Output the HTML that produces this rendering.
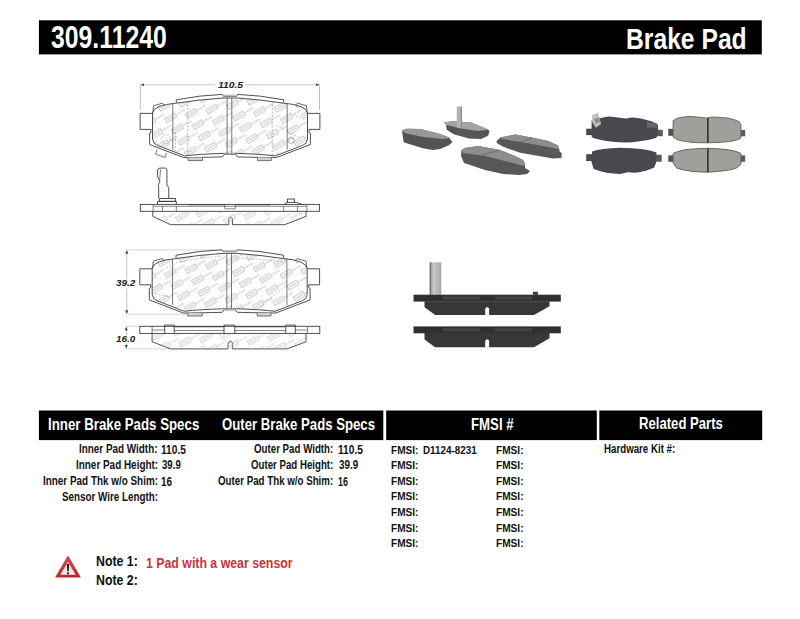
<!DOCTYPE html>
<html><head><meta charset="utf-8"><title>309.11240 Brake Pad</title>
<style>
html,body{margin:0;padding:0;background:#fff;}
body{width:800px;height:619px;position:relative;overflow:hidden;font-family:"Liberation Sans",sans-serif;}
.bar{position:absolute;background:#000;}
.t{position:absolute;white-space:pre;transform-origin:0 0;}
svg{position:absolute;left:0;top:0;}
</style></head><body>
<svg width="800" height="619" viewBox="0 0 800 619">
<defs>
 <pattern id="wm" width="40" height="13" patternUnits="userSpaceOnUse" patternTransform="rotate(-30) translate(3,2)">
  <rect x="0.5" y="1.0" width="11" height="4.8" fill="none" stroke="#bdbdbd" stroke-width="0.8"/>
  <path d="M2.3,3.4 H9.7" stroke="#cacaca" stroke-width="1.6" stroke-dasharray="1.4,0.6"/>
  <path d="M12.5,3.4 H22" stroke="#d6d6d6" stroke-width="2" stroke-dasharray="1.8,0.8"/>
  <rect x="20.5" y="7.5" width="11" height="4.8" fill="none" stroke="#bdbdbd" stroke-width="0.8"/>
  <path d="M22.3,9.9 H29.7" stroke="#cacaca" stroke-width="1.6" stroke-dasharray="1.4,0.6"/>
  <path d="M32.5,9.9 H42" stroke="#d6d6d6" stroke-width="2" stroke-dasharray="1.8,0.8"/>
  <path d="M-7.5,9.9 H2" stroke="#d6d6d6" stroke-width="2" stroke-dasharray="1.8,0.8"/>
 </pattern>
 <linearGradient id="tabg" x1="0" y1="0" x2="1" y2="0"><stop offset="0" stop-color="#8a8a8a"/><stop offset="0.3" stop-color="#c9c9c9"/><stop offset="1" stop-color="#a9a9a9"/></linearGradient>
 <g id="front">
  <!-- friction area with watermark -->
  <path d="M152.5,139 V113 Q154,105 176,103.2 Q200,99.5 223,98 H237 Q260,99.5 284,103.2 Q306,105 307.5,113 V139 Q307,144 302.5,145.4 L275.4,155.9 Q260,154 237,153.4 H223 Q200,154 184.6,155.9 L157.5,145.4 Q153,144 152.5,139 Z" fill="url(#wm)" stroke="#3c3c3c" stroke-width="0.9"/>
  <!-- ears -->
  <path d="M152.6,113.4 H140.1 V129.4 H151" fill="none" stroke="#3c3c3c" stroke-width="0.9"/>
  <path d="M307.4,113.4 H319.9 V129.4 H309" fill="none" stroke="#3c3c3c" stroke-width="0.9"/>
  <!-- outer backplate bottom -->
  <path d="M151,129.4 V132.2 L149.6,133 V144.5 L183.7,157.6 Q200,157.5 222.5,156.9 L224.4,154.4 H235.6 L237.5,156.9 Q260,157.5 276.3,157.6 L310.4,144.5 V133 L309,132.2 V129.4" fill="none" stroke="#3c3c3c" stroke-width="0.9"/>
  <!-- raised top line -->
  <path d="M176.3,102.6 V99.8 Q200,95.2 222.3,94.4 L223.5,96.3 H236.5 L237.7,94.4 Q260,95.2 283.7,99.8 V102.6" fill="none" stroke="#3c3c3c" stroke-width="0.9"/>
  <rect x="223.5" y="94.6" width="13" height="1.7" fill="#bdbdbd"/>
  <rect x="224.4" y="153.2" width="11.2" height="1.2" fill="#bdbdbd"/>
  <!-- top corner tabs -->
  <path d="M152.8,112.7 L153.6,105.8 L162.3,103.2 L164.6,105.1" fill="none" stroke="#3c3c3c" stroke-width="0.8"/>
  <path d="M307.2,112.7 L306.4,105.8 L297.7,103.2 L295.4,105.1" fill="none" stroke="#3c3c3c" stroke-width="0.8"/>
  <!-- bottom tabs -->
  <path d="M188.1,157.6 V160.6 H202.5 V157.6 M257.5,157.6 V160.6 H271.3 V157.6" fill="#d2d2d2" stroke="#555" stroke-width="0.8"/>
  <!-- vertical lines -->
  <path d="M172.8,103.5 V149.7 M287.2,103.5 V149.7 M227.1,98 V153.6 M231.8,98 V153.6" fill="none" stroke="#555" stroke-width="0.8"/>
 </g>
</defs>
<!-- ============ Drawing 1 ============ -->
<path d="M140.3,110 V84.8 M319.5,110 V84.8" stroke="#b0b0b0" stroke-width="0.8"/>
<path d="M141,84.8 H215 M245,84.8 H319" stroke="#bdbdbd" stroke-width="0.9"/>
<path d="M140.5,84.8 L144,83.3 V86.3 Z M319.5,84.8 L316,83.3 V86.3 Z" fill="#555"/>
<use href="#front"/>
  <path d="M157,149.7 L155.5,154 L165,157.5 L166.5,153" fill="none" stroke="#555" stroke-width="0.8"/>
  <path d="M187.7,101 V156 M272.3,101 V156 M175.4,132 V151" fill="none" stroke="#888" stroke-width="0.6" stroke-dasharray="2,1.5"/>
  <circle cx="166.2" cy="139.2" r="4.5" fill="none" stroke="#999" stroke-width="0.6" stroke-dasharray="1.5,1.2"/><circle cx="291.1" cy="140.4" r="3" fill="none" stroke="#888" stroke-width="0.7"/>
<path d="M290,112 L302,120 M276,125 L300,138" fill="none" stroke="#999" stroke-width="0.6" stroke-dasharray="2,1.5"/>

<!-- ============ Drawing 2 (side w/ sensor) ============ -->
<g fill="none" stroke="#3c3c3c" stroke-width="0.9">
 <rect x="140.3" y="204.4" width="179.1" height="6.9"/>
 <path d="M152.8,211.3 V216.4 L170.6,224.7 H228.8 V219 Q230.6,215 232.4,219 V224.7 H284.6 L306,216.4 V211.3"/>
 <path d="M158.7,198.5 V187 L158.2,185.5 L160,181 L157.6,177 V170 Q157.8,168.2 160,168.1 H165.5 Q166.9,168.2 166.9,170 V185 L168.75,187.5 V198.5 M159.5,198.5 H175.5 V201.4 H159.5 Z M157.5,204.4 V201.4 H176.3 V204.4"/>
 <path d="M287.5,202.4 V199 H294.4 V202.4 M284.5,204.4 L287,202.4 H296.5 L302,204.4"/>
</g>
<path d="M153.1,204.4 V211.3 M162.5,206 V211.3 M176.3,206 V211.3 M306.9,204.4 V211.3 M297.5,206 V211.3 M283.7,206 V211.3 M153.1,206.3 H306.9 M224.8,204.4 V208.8 H235.2 V204.4" fill="none" stroke="#555" stroke-width="0.7"/>
<path d="M188.8,204.6 H225 M235,204.6 H270" stroke="#444" stroke-width="1.4"/>
<path d="M153,212 L170.6,224 H284.6 L306,212 Z" fill="url(#wm)" opacity="0.8"/>
<path d="M160.6,169.4 L159.6,180" fill="none" stroke="#555" stroke-width="0.7"/>
<!-- ============ Drawing 3 ============ -->
<path d="M126.8,249.9 H215 M126.8,314.1 H195" stroke="#c4c4c4" stroke-width="0.7"/>
<path d="M126.8,251 V279 M126.8,289 V313" stroke="#aaa" stroke-width="0.7"/>
<path d="M126.8,250 L125.3,253.8 H128.3 Z M126.8,314 L125.3,310.2 H128.3 Z" fill="#444"/>
<use href="#front" transform="translate(-0.3,155.4)"/>
<path d="M155,294 L170,297 M166,268 L178,262 M259.9,307.2 L287,285.2 M235,258 Q260,259 285,262 M180,262 Q200,258 222,256" fill="none" stroke="#999" stroke-width="0.6" stroke-dasharray="2,1.5"/>
<!-- ============ Drawing 4 (side) ============ -->
<path d="M126.3,328 V335 M126.3,343 V348" stroke="#aaa" stroke-width="0.7"/>
<path d="M126.3,326.5 L124.8,330.3 H127.8 Z M126.3,348.8 L124.8,345 H127.8 Z" fill="#444"/>
<path d="M126.3,326.3 H140 M126.3,348.9 H170" stroke="#c4c4c4" stroke-width="0.7"/>
<g fill="none" stroke="#3c3c3c" stroke-width="0.9">
 <rect x="139.8" y="326.3" width="180" height="7.1"/>
 <path d="M152.1,333.4 V341.75 L170.6,348.9 H228.1 V343 Q230.25,339 232.4,343 V348.9 H287 L306,341.75 V333.4"/>
 <path d="M164.7,333.4 V325.1 H174.2 V333.4 M285.8,333.4 V325.1 H295.3 V333.4 M224,333.4 V325.1 H234.8 V333.4"/>
</g>
<path d="M152.1,326.3 V333.4 M307.5,326.3 V333.4 M152.1,330 H164.7 M295.3,330 H307.5 M174.2,330.5 H224 M234.8,330.5 H285.8" fill="none" stroke="#555" stroke-width="0.7"/>
<path d="M174.2,326.6 H224 M234.8,326.6 H285.8" stroke="#444" stroke-width="1.3"/>
<path d="M152.5,334 V341.5 L170.6,348.5 H287 L305.6,341.5 V334 Z" fill="url(#wm)" opacity="0.8"/>

<!-- ============ Photos: isometric ============ -->
<!-- pad 1 -->
<path d="M402.1,130.25 L407,128.75 L420.5,129.1 L440,134 L449,137.4 L452.4,141.9 L449,145.25 L440,149 L433.25,150.1 L422.75,148.25 L403.6,142.25 L402.1,131.75 Z" fill="#535353"/>
<path d="M402.1,130.25 L407,128.75 L420.5,129.1 L440,134 L449,137.4 L450.5,138.1 L443,138.9 L423.5,137 L408.5,134 L402.1,131.75 Z" fill="#979797"/>
<!-- pad 2 with sensor -->
<path d="M443.8,122.3 L453.7,121.2 L470.9,122.6 L483.3,127.4 L488.1,129.5 L489.5,130.9 L488.1,135.7 L481.2,139.1 L468.9,138.4 L453.7,134.3 L446.5,129.5 L446.2,124.7 Z" fill="#555"/>
<path d="M443.8,122.3 L453.7,121.2 L470.9,122.6 L483.3,127.4 L488.1,129.5 L478.5,130.9 L460.6,128.5 L446.2,124.7 Z" fill="#a3a3a3"/>
<rect x="456.8" y="106.5" width="5.2" height="21" fill="#b2b2b0"/>
<rect x="460.8" y="106.5" width="1.2" height="21" fill="#8a8a88"/>
<!-- pad 3 -->
<path d="M461.5,150 L465,148 L478,146 L500,150 L515,156 L523,160 L525,164 L525,168 L530,171 L527,174 L519,175 L503,174 L485,170 L464,163 L461,156 Z" fill="#575757"/>
<path d="M461.5,150 L465,148 L478,146 L500,150 L515,156 L523,160 L525,164 L524,166 L505,161 L485,156 L463,153 Z" fill="#8e8d8a"/>
<path d="M499,150.5 L482,155" stroke="#6a6a68" stroke-width="0.8"/>
<!-- pad 4 -->
<path d="M500.4,137.4 L515.4,134.6 L531.4,137.4 L548.2,141.1 L557.6,145.3 L559.5,149.6 L559.5,151.4 L561.8,153.3 L561.4,158 L552.9,158.5 L538.9,156.1 L520.1,152.8 L503.2,146.7 L497.6,143.5 L496.2,141.6 Z" fill="#585858"/>
<path d="M500.4,137.4 L515.4,134.6 L531.4,137.4 L548.2,141.1 L557.6,145.3 L559.5,149.6 L544.5,146.3 L521,142 L501.4,138.8 Z" fill="#8e8d8a"/>
<path d="M532.3,137.8 L521,142" stroke="#6a6a68" stroke-width="0.8"/>

<!-- ============ Photos: front views ============ -->
<rect x="586.2" y="128.7" width="7" height="6.4" fill="#47474d"/>
<rect x="657" y="129.8" width="5.8" height="6.4" fill="#5a5a60"/>
<path d="M591.6,136.7 V120.75 Q595,118.5 601.1,118.1 Q605,116.8 609.6,116.5 Q616,117 621.3,118.1 L626.6,118.6 Q630,117.6 633,117.6 Q640,118 645.8,119.7 Q652,121 656.4,123.4 L658,125 V134.6 L656.4,137.75 Q648,140.5 641.5,141 Q632,142.5 624.5,142.5 Q614,142 606.4,141 Q598,139.5 593.7,138.3 Z" fill="#48484e"/>
<path d="M646.8,121.8 L656.4,123.4 L657.5,127.7 L646.8,127.7 Z" fill="#64646b"/>
<path d="M592.1,114.9 L598,112.8 L601.1,124 L595.8,127.7 L592.1,121.8 Z" fill="#c2c2be"/>
<path d="M594,119 L599,117.5 L600,122 L595.5,123.5 Z" fill="#8a8a88"/>
<rect x="586.2" y="154.2" width="7" height="6.9" fill="#47474d"/>
<rect x="655.5" y="154.75" width="6.2" height="6.95" fill="#5a5a60"/>
<path d="M592.1,151.6 Q597,149.5 603.3,148.9 Q611,148 619.2,147.8 Q627,147.8 635.1,148.4 Q643,149 650,150.5 L656.4,152.6 V161.7 L654.3,167.5 Q650,169.5 645.8,170.7 Q640,172 635.1,172.8 L627.7,172.3 L620.3,173.9 Q613,173.5 606.4,172.8 Q599,171 593.7,169.1 L591.6,162.2 Z" fill="#48484e"/>
<g>
 <rect x="668.3" y="128.8" width="5.4" height="7" fill="#505054"/>
 <rect x="740.4" y="129.9" width="4.8" height="6.4" fill="#5c5c60"/>
 <path d="M673.1,136.9 V120.75 Q676,118.2 680.1,117.5 Q685,116.6 690.9,116.5 Q699,117 707,118.1 L712.4,117 Q720,117.3 728.5,118.1 Q735,119.5 739.3,121.8 L740.9,125 V138 L739.3,139 Q734,141 728.5,141.7 Q718,142.7 707,142.8 Q698,142.8 690.9,142.3 Q683,141.3 676.9,139.6 Z" fill="#a09f9b" stroke="#5e5e5e" stroke-width="0.9"/>
 <rect x="707" y="118" width="1.7" height="24.5" fill="#353535"/>
 <rect x="668.3" y="155.4" width="5.4" height="6.4" fill="#505054"/>
 <rect x="740.4" y="155.4" width="4.8" height="6.4" fill="#5c5c60"/>
 <path d="M673.1,153.4 Q678,151 685.8,149.6 Q697,148.4 707.8,148.3 Q718,148.5 728.5,149.8 Q736,151 740.9,153.3 V164 L737.5,167.6 Q733,169.3 728.5,170.2 Q718,171.6 707.8,172.2 Q698,172 690.9,171.2 Q683,170 676.8,168.3 L673.1,163 Z" fill="#a09f9b" stroke="#5e5e5e" stroke-width="0.9"/>
 <rect x="707" y="148.5" width="1.7" height="23.5" fill="#353535"/>
</g>

<!-- ============ Photos: side views ============ -->
<rect x="430" y="262.3" width="11.3" height="32.6" fill="url(#tabg)"/>
<rect x="429.6" y="262.3" width="1.2" height="32.6" fill="#6e6e6e"/>
<rect x="413.5" y="294.7" width="147.3" height="6.9" fill="#303032"/>
<path d="M424.5,301.2 H549.5 V306.3 L534,315.1 H435.2 L424.5,307.3 Z" fill="#373739"/>
<path d="M485.2,315.3 V308.6 Q487.15,305.6 489.1,308.6 V315.3 Z" fill="#fff"/>
<rect x="533" y="291.8" width="4.9" height="3" fill="#3a3a3a"/>
<rect x="443" y="296.2" width="36.8" height="3.6" fill="#434345"/>
<rect x="495.3" y="296.2" width="36.7" height="3.6" fill="#434345"/>
<rect x="413.5" y="326.4" width="147.3" height="6.9" fill="#303032"/>
<path d="M424.5,332.8 H549.5 V338.3 L534,347.3 H435.2 L424.5,339.5 Z" fill="#373739"/>
<path d="M485.2,347.5 V340.8 Q487.15,337.8 489.1,340.8 V347.5 Z" fill="#fff"/>
<rect x="443" y="327.9" width="36.8" height="3.6" fill="#434345"/>
<rect x="495.3" y="327.9" width="36.7" height="3.6" fill="#434345"/>

<!-- bars -->
<rect x="38.9" y="20.3" width="722.9" height="34.1" fill="#000"/>
<rect x="38.9" y="410.5" width="344.4" height="29.6" fill="#000"/>
<rect x="386.2" y="410.5" width="210.6" height="29.6" fill="#000"/>
<rect x="599.3" y="410.5" width="162.9" height="29.6" fill="#000"/>
<!-- warning triangle -->
<defs><linearGradient id="redg" x1="0" y1="0" x2="0" y2="1"><stop offset="0" stop-color="#d2484e"/><stop offset="1" stop-color="#b82a31"/></linearGradient>
<linearGradient id="pinkg" x1="0" y1="0" x2="0" y2="1"><stop offset="0" stop-color="#f0d4d4"/><stop offset="1" stop-color="#fbeeee"/></linearGradient></defs>
<path d="M68,556.6 L80,577 L56,577 Z" fill="url(#redg)" stroke="url(#redg)" stroke-width="1.2" stroke-linejoin="round"/>
<path d="M68,561.8 L75.6,574.8 L60.4,574.8 Z" fill="url(#pinkg)"/>
<path d="M66.9,564 H69.1 L68.7,571.3 H67.3 Z" fill="#151515"/>
<rect x="67.05" y="572.4" width="1.9" height="1.9" fill="#151515"/>
</svg>

<div class="t" style="left:51.30px;top:23.06px;font-size:30.72px;line-height:30.72px;color:#fff;font-weight:bold;transform:scaleX(0.8070)">309.11240</div>
<div class="t" style="left:626.07px;top:23.82px;font-size:29.71px;line-height:29.71px;color:#fff;font-weight:bold;transform:scaleX(0.8305)">Brake Pad</div>
<div class="t" style="left:47.97px;top:417.45px;font-size:16.52px;line-height:16.52px;color:#fff;font-weight:bold;transform:scaleX(0.8038)">Inner Brake Pads Specs</div>
<div class="t" style="left:222.07px;top:416.81px;font-size:16.96px;line-height:16.96px;color:#fff;font-weight:bold;transform:scaleX(0.7775)">Outer Brake Pads Specs</div>
<div class="t" style="left:470.57px;top:416.95px;font-size:15.94px;line-height:15.94px;color:#fff;font-weight:bold;transform:scaleX(0.8290)">FMSI #</div>
<div class="t" style="left:639.08px;top:415.29px;font-size:16.38px;line-height:16.38px;color:#fff;font-weight:bold;transform:scaleX(0.8022)">Related Parts</div>
<div class="t" style="left:79.11px;top:444.31px;font-size:11.88px;line-height:11.88px;color:#111;font-weight:bold;transform:scaleX(0.8328)">Inner Pad Width:</div>
<div class="t" style="left:161.39px;top:444.74px;font-size:11.88px;line-height:11.88px;color:#111;font-weight:bold;transform:scaleX(0.8557)">110.5</div>
<div class="t" style="left:75.51px;top:460.02px;font-size:11.88px;line-height:11.88px;color:#111;font-weight:bold;transform:scaleX(0.8352)">Inner Pad Height:</div>
<div class="t" style="left:161.81px;top:460.40px;font-size:11.88px;line-height:11.88px;color:#111;font-weight:bold;transform:scaleX(0.8103)">39.9</div>
<div class="t" style="left:42.51px;top:476.26px;font-size:11.88px;line-height:11.88px;color:#111;font-weight:bold;transform:scaleX(0.8341)">Inner Pad Thk w/o Shim:</div>
<div class="t" style="left:161.41px;top:476.69px;font-size:11.88px;line-height:11.88px;color:#111;font-weight:bold;transform:scaleX(0.8331)">16</div>
<div class="t" style="left:61.60px;top:491.80px;font-size:11.88px;line-height:11.88px;color:#111;font-weight:bold;transform:scaleX(0.8275)">Sensor Wire Length:</div>
<div class="t" style="left:253.61px;top:444.31px;font-size:11.88px;line-height:11.88px;color:#111;font-weight:bold;transform:scaleX(0.8184)">Outer Pad Width:</div>
<div class="t" style="left:338.39px;top:444.74px;font-size:11.88px;line-height:11.88px;color:#111;font-weight:bold;transform:scaleX(0.8557)">110.5</div>
<div class="t" style="left:250.61px;top:460.02px;font-size:11.88px;line-height:11.88px;color:#111;font-weight:bold;transform:scaleX(0.8153)">Outer Pad Height:</div>
<div class="t" style="left:338.80px;top:460.40px;font-size:11.88px;line-height:11.88px;color:#111;font-weight:bold;transform:scaleX(0.8281)">39.9</div>
<div class="t" style="left:217.61px;top:476.26px;font-size:11.88px;line-height:11.88px;color:#111;font-weight:bold;transform:scaleX(0.8199)">Outer Pad Thk w/o Shim:</div>
<div class="t" style="left:338.47px;top:476.69px;font-size:11.88px;line-height:11.88px;color:#111;font-weight:bold;transform:scaleX(0.7498)">16</div>
<div class="t" style="left:423.11px;top:443.88px;font-size:11.74px;line-height:11.74px;color:#111;font-weight:bold;transform:scaleX(0.8391)">D1124-8231</div>
<div class="t" style="left:604.32px;top:444.31px;font-size:11.88px;line-height:11.88px;color:#111;font-weight:bold;transform:scaleX(0.8180)">Hardware Kit #:</div>
<div class="t" style="left:96.23px;top:554.21px;font-size:14.64px;line-height:14.64px;color:#111;font-weight:bold;transform:scaleX(0.8444)">Note 1:</div>
<div class="t" style="left:145.66px;top:555.77px;font-size:14.93px;line-height:14.93px;color:#c9343c;font-weight:bold;transform:scaleX(0.8258)">1 Pad with a wear sensor</div>
<div class="t" style="left:96.23px;top:572.91px;font-size:14.78px;line-height:14.78px;color:#111;font-weight:bold;transform:scaleX(0.8361)">Note 2:</div>
<div class="t" style="left:217.54px;top:80.70px;font-size:9.06px;line-height:9.06px;color:#222;font-weight:bold;font-style:italic;transform:scaleX(1.1405)">110.5</div>
<div class="t" style="left:115.65px;top:278.39px;font-size:9.42px;line-height:9.42px;color:#222;font-weight:bold;font-style:italic;transform:scaleX(1.0588)">39.2</div>
<div class="t" style="left:115.80px;top:334.70px;font-size:9.06px;line-height:9.06px;color:#222;font-weight:bold;font-style:italic;transform:scaleX(1.0925)">16.0</div>
<div class="t" style="left:391.39px;top:443.88px;font-size:11.74px;line-height:11.74px;color:#111;font-weight:bold;transform:scaleX(0.8585)">FMSI:</div>
<div class="t" style="left:496.29px;top:443.88px;font-size:11.74px;line-height:11.74px;color:#111;font-weight:bold;transform:scaleX(0.8619)">FMSI:</div>
<div class="t" style="left:391.39px;top:459.32px;font-size:11.74px;line-height:11.74px;color:#111;font-weight:bold;transform:scaleX(0.8585)">FMSI:</div>
<div class="t" style="left:496.29px;top:459.32px;font-size:11.74px;line-height:11.74px;color:#111;font-weight:bold;transform:scaleX(0.8619)">FMSI:</div>
<div class="t" style="left:391.39px;top:474.76px;font-size:11.74px;line-height:11.74px;color:#111;font-weight:bold;transform:scaleX(0.8585)">FMSI:</div>
<div class="t" style="left:496.29px;top:474.76px;font-size:11.74px;line-height:11.74px;color:#111;font-weight:bold;transform:scaleX(0.8619)">FMSI:</div>
<div class="t" style="left:391.39px;top:490.20px;font-size:11.74px;line-height:11.74px;color:#111;font-weight:bold;transform:scaleX(0.8585)">FMSI:</div>
<div class="t" style="left:496.29px;top:490.20px;font-size:11.74px;line-height:11.74px;color:#111;font-weight:bold;transform:scaleX(0.8619)">FMSI:</div>
<div class="t" style="left:391.39px;top:506.44px;font-size:11.74px;line-height:11.74px;color:#111;font-weight:bold;transform:scaleX(0.8585)">FMSI:</div>
<div class="t" style="left:496.29px;top:506.44px;font-size:11.74px;line-height:11.74px;color:#111;font-weight:bold;transform:scaleX(0.8619)">FMSI:</div>
<div class="t" style="left:391.39px;top:521.88px;font-size:11.74px;line-height:11.74px;color:#111;font-weight:bold;transform:scaleX(0.8585)">FMSI:</div>
<div class="t" style="left:496.29px;top:521.88px;font-size:11.74px;line-height:11.74px;color:#111;font-weight:bold;transform:scaleX(0.8619)">FMSI:</div>
<div class="t" style="left:391.39px;top:537.32px;font-size:11.74px;line-height:11.74px;color:#111;font-weight:bold;transform:scaleX(0.8585)">FMSI:</div>
<div class="t" style="left:496.29px;top:537.32px;font-size:11.74px;line-height:11.74px;color:#111;font-weight:bold;transform:scaleX(0.8619)">FMSI:</div>
</body></html>
